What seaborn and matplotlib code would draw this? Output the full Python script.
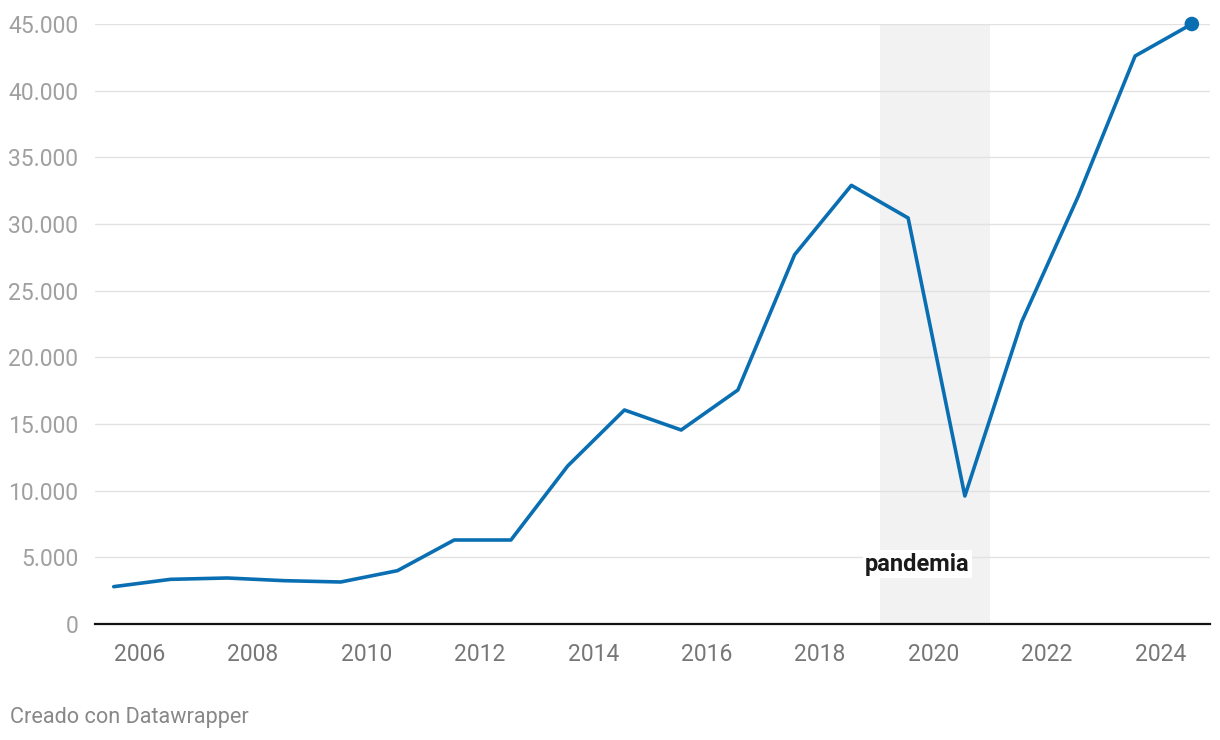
import matplotlib
matplotlib.use("Agg")
import matplotlib.pyplot as plt
import seaborn as sns
import pandas as pd

years = [2005, 2006, 2007, 2008, 2009, 2010, 2011, 2012, 2013, 2014,
         2015, 2016, 2017, 2018, 2019, 2020, 2021, 2022, 2023, 2024]
values = [2800, 3350, 3450, 3250, 3150, 4000, 6300, 6300, 11850, 16050,
          14550, 17550, 27700, 32900, 30450, 9600, 22650, 32100, 42600, 45000]
x_ticks = [2006, 2008, 2010, 2012, 2014, 2016, 2018, 2020, 2022, 2024]
y_ticks = [0, 5000, 10000, 15000, 20000, 25000, 30000, 35000, 40000, 45000]
y_labels = ["0", "5.000", "10.000", "15.000", "20.000", "25.000",
            "30.000", "35.000", "40.000", "45.000"]
pandemic_span = (2019.06, 2021.0)
pandemic_label = "pandemia"
footer = "Creado con Datawrapper"

sns.set_theme(style="white")
plt.rcParams["font.family"] = ["Roboto", "DejaVu Sans"]

offset = 0.55
df = pd.DataFrame({"x": [y + offset for y in years], "value": values})

fig = plt.figure(figsize=(12.2, 7.4), dpi=100)
ax = fig.add_axes([95 / 1220, 1 - 624 / 740, (1210 - 95) / 1220, 600 / 740])

ax.axvspan(*pandemic_span, color="#f2f2f2", zorder=0, lw=0)
for yt in y_ticks[1:]:
    ax.axhline(yt, color="#e2e2e2", lw=1.0, zorder=1)

color = "#0a6fb2"
sns.lineplot(data=df, x="x", y="value", ax=ax, color=color, lw=2.6, zorder=3)
sns.scatterplot(data=df.iloc[[-1]], x="x", y="value", ax=ax, color=color,
                s=110, edgecolor="none", zorder=4, clip_on=False)

ax.text(2019.71, 4500, pandemic_label, ha="center", va="center", fontsize=17,
        fontweight="bold", color="#1a1a1a", zorder=5,
        bbox=dict(facecolor="white", edgecolor="none", pad=1.5))

ax.set_xlim(2005.22, 2024.87)
ax.set_ylim(0, 45000)
ax.set_xticks(x_ticks)
ax.set_xticklabels([str(t) for t in x_ticks])
ax.set_yticks(y_ticks)
ax.set_yticklabels(y_labels)
ax.tick_params(axis="x", length=0, pad=14, labelsize=16.5, labelcolor="#777777")
ax.tick_params(axis="y", length=0, pad=12, labelsize=16.5, labelcolor="#a0a0a0")
ax.set_xlabel("")
ax.set_ylabel("")
for s in ["top", "right", "left"]:
    ax.spines[s].set_visible(False)
ax.spines["bottom"].set_color("#111111")
ax.spines["bottom"].set_linewidth(1.6)
ax.spines["bottom"].set_zorder(6)

fig.text(10 / 1220, 1 - 717 / 740, footer, fontsize=15.6, color="#888888",
         ha="left", va="center")

fig.savefig("out.png", dpi=100, facecolor="white")
